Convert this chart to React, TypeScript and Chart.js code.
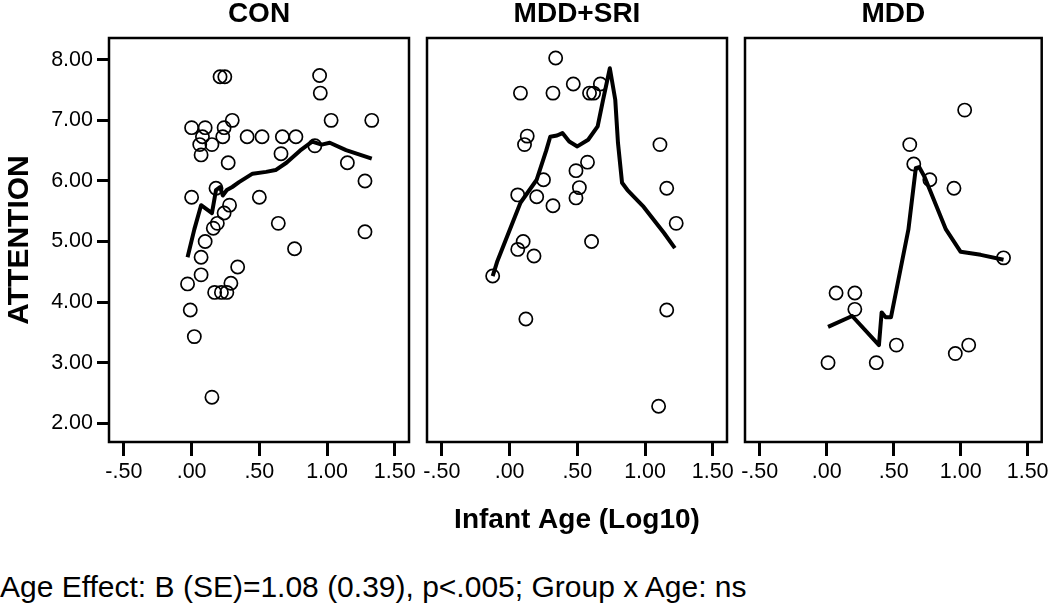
import React, { useEffect, useRef } from "react";
import { Chart, registerables } from "chart.js";

Chart.register(...registerables);

// ---------- data ----------
const panelTitles = ["CON", "MDD+SRI", "MDD"];
const xAxisTitle = "Infant Age (Log10)";
const yAxisTitle = "ATTENTION";
const footnote = "Age Effect: B (SE)=1.08 (0.39), p<.005; Group x Age: ns";

const xTickValues = [-0.5, 0, 0.5, 1, 1.5];
const xTickLabels = ["-.50", ".00", ".50", "1.00", "1.50"];
const yTickValues = [2, 3, 4, 5, 6, 7, 8];
const yTickLabels = ["2.00", "3.00", "4.00", "5.00", "6.00", "7.00", "8.00"];

const conAge = [0.21, 0.245, 0.945, 0.95, 0.3, 1.03, 1.33, 0.0, 0.1, 0.24, 0.08, 0.23, 0.41, 0.52, 0.67, 0.77, 0.06, 0.15, 0.07, 0.27, 0.66, 0.91, 1.15, 1.28, 0.0, 0.18, 0.5, 0.28, 0.24, 0.19, 0.16, 0.64, 0.1, 1.28, 0.76, 0.07, 0.34, 0.07, -0.03, 0.29, 0.17, 0.22, 0.26, -0.01, 0.02, 0.15];
const conAtt = [7.72, 7.72, 7.74, 7.45, 7.0, 7.0, 7.0, 6.88, 6.88, 6.88, 6.73, 6.73, 6.73, 6.73, 6.73, 6.73, 6.6, 6.6, 6.43, 6.3, 6.45, 6.58, 6.3, 6.0, 5.73, 5.88, 5.73, 5.6, 5.47, 5.3, 5.22, 5.3, 5.0, 5.16, 4.88, 4.74, 4.58, 4.45, 4.3, 4.31, 4.16, 4.16, 4.16, 3.87, 3.43, 2.43];
const conFitAge = [-0.03, 0.02, 0.07, 0.12, 0.15, 0.18, 0.21, 0.23, 0.26, 0.3, 0.35, 0.45, 0.55, 0.62, 0.7, 0.8, 0.89, 0.96, 1.02, 1.14, 1.33];
const conFitAtt = [4.74, 5.2, 5.6, 5.52, 5.47, 5.85, 5.9, 5.76, 5.85, 5.9, 5.98, 6.12, 6.15, 6.18, 6.3, 6.5, 6.65, 6.6, 6.63, 6.51, 6.37];

const sriAge = [0.34, 0.08, 0.32, 0.47, 0.59, 0.62, 0.67, 0.13, 0.11, 1.11, 0.575, 0.49, 0.25, 0.515, 1.16, 0.06, 0.2, 0.49, 0.32, 1.23, 0.605, 0.1, 0.06, 0.18, -0.125, 0.12, 1.16, 1.1];
const sriAtt = [8.03, 7.45, 7.45, 7.6, 7.45, 7.45, 7.6, 6.74, 6.6, 6.6, 6.31, 6.17, 6.02, 5.89, 5.88, 5.77, 5.74, 5.72, 5.59, 5.3, 5.0, 5.0, 4.87, 4.76, 4.43, 3.72, 3.87, 2.28];
const sriFitAge = [-0.125, -0.09, 0.08, 0.2, 0.27, 0.3, 0.35, 0.39, 0.44, 0.5, 0.58, 0.65, 0.69, 0.74, 0.78, 0.8, 0.83, 0.87, 0.99, 1.14, 1.22];
const sriFitAtt = [4.43, 4.68, 5.64, 6.02, 6.5, 6.73, 6.75, 6.79, 6.65, 6.57, 6.68, 6.9, 7.34, 7.86, 7.34, 6.63, 5.97, 5.85, 5.57, 5.14, 4.89];

const mddAge = [1.03, 0.62, 0.65, 0.77, 0.95, 1.32, 0.07, 0.21, 0.21, 0.01, 0.37, 0.52, 0.96, 1.06];
const mddAtt = [7.17, 6.6, 6.28, 6.02, 5.88, 4.73, 4.15, 4.15, 3.88, 3.0, 3.0, 3.29, 3.15, 3.29];
const mddFitAge = [0.01, 0.19, 0.39, 0.41, 0.44, 0.48, 0.61, 0.665, 0.69, 0.73, 0.89, 1.0, 1.15, 1.32];
const mddFitAtt = [3.59, 3.77, 3.29, 3.83, 3.75, 3.75, 5.2, 6.21, 6.23, 6.07, 5.2, 4.83, 4.78, 4.7];

const X_MIN = -0.61;
const X_MAX = 1.605;
const Y_MIN = 1.69;
const Y_MAX = 8.36;

const FONT = "'Liberation Sans', Arial, sans-serif";

// ---------- layout of the three panels ----------
const panels = [
  { title: panelTitles[0], xs: conAge, ys: conAtt, fx: conFitAge, fy: conFitAtt, left: 0, width: 418, height: 500, padLeft: 0, padRight: 9, showY: true, showXTitle: false },
  { title: panelTitles[1], xs: sriAge, ys: sriAtt, fx: sriFitAge, fy: sriFitAtt, left: 417, width: 319, height: 560, padLeft: 10, padRight: 9, showY: false, showXTitle: true },
  { title: panelTitles[2], xs: mddAge, ys: mddAtt, fx: mddFitAge, fy: mddFitAtt, left: 735, width: 315, height: 500, padLeft: 10, padRight: 5, showY: false, showXTitle: false },
];

const PLOT_BOTTOM = 442;

const framePlugin = {
  id: "frame",
  afterDatasetsDraw(chart: any) {
    const { ctx, chartArea } = chart;
    const { left, top, right, bottom } = chartArea;
    ctx.save();
    ctx.strokeStyle = "#000";
    ctx.lineWidth = 2.5;
    ctx.strokeRect(left, top, right - left, bottom - top);
    ctx.restore();
  },
};

function Panel({ p }: { p: any }) {
  const ref = useRef<HTMLCanvasElement | null>(null);
  useEffect(() => {
    if (!ref.current) return;
    const points = p.xs.map((x: number, i: number) => ({ x, y: p.ys[i] }));
    const fit = p.fx.map((x: number, i: number) => ({ x, y: p.fy[i] }));
    const chart = new Chart(ref.current, {
      type: "scatter",
      data: {
        datasets: [
          {
            label: "fit",
            data: fit,
            showLine: true,
            borderColor: "#000",
            borderWidth: 4,
            borderJoinStyle: "round",
            pointRadius: 0,
            pointHoverRadius: 0,
            fill: false,
            tension: 0,
          } as any,
          {
            label: "obs",
            data: points,
            pointStyle: "circle",
            pointRadius: 6.6,
            pointBorderWidth: 1.7,
            borderColor: "#000",
            pointBorderColor: "#000",
            backgroundColor: "rgba(0,0,0,0)",
            pointBackgroundColor: "rgba(0,0,0,0)",
            showLine: false,
          } as any,
        ],
      },
      options: {
        responsive: false,
        animation: false,
        events: [],
        layout: { padding: { left: p.padLeft, right: p.padRight, top: 0, bottom: 0 } },
        plugins: {
          legend: { display: false },
          tooltip: { enabled: false },
          title: {
            display: true,
            text: p.title,
            fullSize: false,
            color: "#000",
            font: { family: FONT, size: 28, weight: "bold", lineHeight: 1 },
            padding: { top: 0, bottom: 10 },
          },
        },
        scales: {
          x: {
            type: "linear",
            min: X_MIN,
            max: X_MAX,
            afterBuildTicks: (s: any) => {
              s.ticks = xTickValues.map((v) => ({ value: v }));
            },
            afterFit: (s: any) => {
              s.height = p.height - PLOT_BOTTOM;
              s.paddingLeft = 0;
              s.paddingRight = 0;
            },
            ticks: {
              autoSkip: false,
              maxRotation: 0,
              padding: 3,
              color: "#000",
              font: { family: FONT, size: 21.5 },
              callback: (v: any) => {
                const i = xTickValues.indexOf(Number(v));
                return i >= 0 ? xTickLabels[i] : "";
              },
            },
            grid: {
              drawOnChartArea: false,
              drawTicks: true,
              tickLength: 14,
              tickWidth: 3,
              tickColor: "#000",
              color: "#000",
            },
            border: { display: false },
            title: {
              display: p.showXTitle,
              text: xAxisTitle,
              color: "#000",
              font: { family: FONT, size: 28, weight: "bold", lineHeight: 1.2 },
              padding: { top: 0, bottom: 23 },
            },
          },
          y: {
            type: "linear",
            display: p.showY,
            min: Y_MIN,
            max: Y_MAX,
            afterBuildTicks: (s: any) => {
              s.ticks = yTickValues.map((v) => ({ value: v }));
            },
            afterFit: (s: any) => {
              s.width = p.showY ? 109 : 0;
              s.paddingTop = 0;
              s.paddingBottom = 0;
            },
            ticks: {
              autoSkip: false,
              padding: 4,
              color: "#000",
              font: { family: FONT, size: 21.5 },
              callback: (v: any) => {
                const i = yTickValues.indexOf(Number(v));
                return i >= 0 ? yTickLabels[i] : "";
              },
            },
            grid: {
              drawOnChartArea: false,
              drawTicks: true,
              tickLength: 12,
              tickWidth: 3,
              tickColor: "#000",
              color: "#000",
            },
            border: { display: false },
            title: {
              display: p.showY,
              text: yAxisTitle,
              color: "#000",
              font: { family: FONT, size: 30, weight: "bold", lineHeight: 1.2 },
              padding: { top: 2, bottom: 0 },
            },
          },
        },
      } as any,
      plugins: [framePlugin],
    });
    return () => chart.destroy();
  }, [p]);
  return (
    <canvas
      ref={ref}
      width={p.width}
      height={p.height}
      style={{ position: "absolute", left: p.left, top: 0, width: p.width, height: p.height, display: "block" }}
    />
  );
}

export default function App() {
  return (
    <div style={{ position: "absolute", left: 0, top: 0, width: 1050, height: 605, background: "#fff", overflow: "hidden" }}>
      {panels.map((p, i) => (
        <Panel key={i} p={p} />
      ))}
      <div
        style={{
          position: "absolute",
          left: 0,
          top: 569,
          fontFamily: FONT,
          fontSize: 30,
          lineHeight: "36px",
          color: "#000",
          whiteSpace: "nowrap",
        }}
      >
        {footnote}
      </div>
    </div>
  );
}
